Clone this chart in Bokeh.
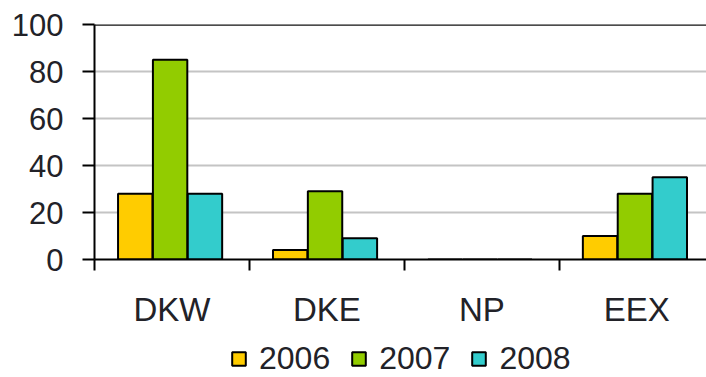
from bokeh.plotting import figure
from bokeh.layouts import column
from bokeh.models import (ColumnDataSource, Range1d, FixedTicker, Span, Legend,
                          LegendItem)
from bokeh.transform import dodge
from bokeh.embed import file_html
from bokeh.resources import INLINE

# Values per market and year
categories = ["DKW", "DKE", "NP", "EEX"]
years = ["2006", "2007", "2008"]
v2006 = [28, 4, 0, 10]
v2007 = [85, 29, 0, 28]
v2008 = [28, 9, 0, 35]
y_ticks = [0, 20, 40, 60, 80, 100]

colors = ["#FFCC00", "#92CC00", "#33CCCC"]
FONT = "Liberation Sans"
TEXT = "#222228"

centers = [i + 0.5 for i in range(len(categories))]
source = ColumnDataSource(dict(x=centers, y2006=v2006, y2007=v2007, y2008=v2008))

p = figure(width=706, height=335, output_backend="svg", toolbar_location=None,
           x_range=Range1d(0, 3.95), y_range=Range1d(0, 100),
           min_border_left=94, min_border_right=0, min_border_top=24,
           min_border_bottom=76)
p.outline_line_color = None
p.background_fill_color = "white"
p.border_fill_color = "white"

offsets = [-0.237, -0.012, 0.213]
for yr, col, off in zip(years, colors, offsets):
    p.vbar(x=dodge("x", off, range=p.x_range), top="y" + yr, width=0.222,
           source=source, fill_color=col, line_color="black", line_width=2)

# black line across the top at 100
p.add_layout(Span(location=100, dimension="width", line_color="#111111",
                  line_width=2.5))

# y axis
p.yaxis.ticker = FixedTicker(ticks=y_ticks)
p.yaxis.major_tick_out = 12
p.yaxis.major_tick_in = 0
p.yaxis.minor_tick_out = 0
p.yaxis.minor_tick_in = 0
p.yaxis.axis_line_width = 2
p.yaxis.major_tick_line_width = 2
p.yaxis.major_label_standoff = 19
p.yaxis.major_label_text_font = FONT
p.yaxis.major_label_text_font_size = "31px"
p.yaxis.major_label_text_color = TEXT

# x axis: labels at category centres, ticks between categories
p.xaxis.ticker = FixedTicker(ticks=centers, minor_ticks=[0, 1, 2, 3])
p.xaxis.major_label_overrides = {c: lab for c, lab in zip(centers, categories)}
p.xaxis.major_tick_out = 0
p.xaxis.major_tick_in = 0
p.xaxis.minor_tick_out = 11
p.xaxis.minor_tick_in = 0
p.xaxis.minor_tick_line_width = 2
p.xaxis.axis_line_width = 2
p.xaxis.major_label_standoff = 20
p.xaxis.major_label_text_font = FONT
p.xaxis.major_label_text_font_size = "33px"
p.xaxis.major_label_text_color = TEXT

p.xgrid.grid_line_color = None
p.ygrid.ticker = FixedTicker(ticks=[20, 40, 60, 80])
p.ygrid.grid_line_color = "#c4c4c4"
p.ygrid.grid_line_width = 2

# legend strip underneath the chart; swatch renderers carry no drawable data
q = figure(width=706, height=42, output_backend="svg", toolbar_location=None,
           x_range=Range1d(0, 1), y_range=Range1d(0, 1),
           min_border_left=94, min_border_right=0, min_border_top=0,
           min_border_bottom=0, x_axis_location=None, y_axis_location=None)
q.outline_line_color = None
q.grid.visible = False
swatch_src = ColumnDataSource(dict(x=[float("nan")], top=[float("nan")]))
swatches = [q.vbar(x="x", top="top", width=0.1, source=swatch_src,
                   fill_color=col, line_color="black", line_width=2)
            for col in colors]

legend = Legend(items=[LegendItem(label=yr, renderers=[r], index=0)
                       for yr, r in zip(years, swatches)],
                orientation="horizontal", location=(136, 0),
                glyph_width=17, glyph_height=17, label_standoff=12, spacing=20,
                padding=0, margin=0, border_line_color=None,
                background_fill_alpha=0,
                label_text_font=FONT, label_text_font_size="32px",
                label_text_color=TEXT, label_height=20)
q.add_layout(legend, "center")

layout = column(p, q, spacing=0)
open("out.html", "w").write(file_html(layout, INLINE))
